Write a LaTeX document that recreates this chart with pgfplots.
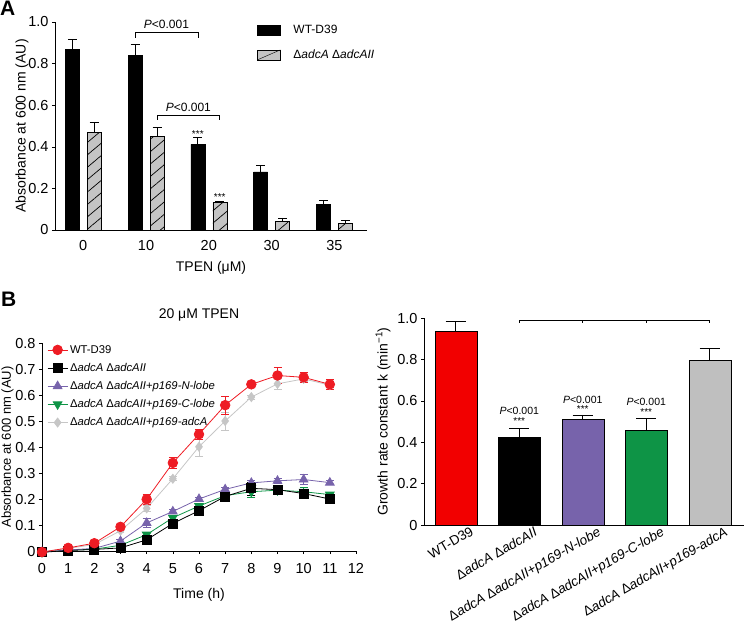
\documentclass[border=0pt]{standalone}
\usepackage{fontspec}
\setmainfont{Liberation Sans}
\usepackage{pgfplots}
\pgfplotsset{compat=1.18}
\usetikzlibrary{patterns.meta}
\definecolor{cred}{HTML}{EE1C24}
\definecolor{bred}{HTML}{F20000}
\definecolor{cpurple}{HTML}{7763AB}
\definecolor{cgreen}{HTML}{0E9446}
\definecolor{cgray}{HTML}{BFBFBF}
\definecolor{mgray}{HTML}{C6C6C6}
\definecolor{hgray}{HTML}{C4C4C4}
\newcommand{\dA}{Δ\textit{adcA}}
\newcommand{\dAII}{Δ\textit{adcAII}}
\newcommand{\fs}[1]{\fontsize{#1}{#1}\selectfont}
\begin{document}
\begin{tikzpicture}[font=\fs{14}]
\pgfplotsset{
  common/.style={
    scale only axis,
    axis x line*=bottom, axis y line*=left,
    tick align=outside,
    major tick length=3pt,
    tick style={black, line width=0.6pt},
    axis line style={line width=0.7pt, -},
    clip=false,
    ticklabel style={font=\fs{14.5}},
    label style={font=\fs{14}},
    /pgf/number format/assume math mode=true,
  }
}
% ---------------- Panel A ----------------
\begin{axis}[common,
  at={(55pt,-230pt)}, anchor=south west,
  width=312pt, height=208pt,
  xmin=-0.45, xmax=4.52, ymin=0, ymax=1,
  xtick={0,1,2,3,4}, xticklabels={0,10,20,30,35},
  xticklabel style={yshift=-4pt},
  x tick style={draw=none},
  ytick={0,0.2,0.4,0.6,0.8,1.0}, yticklabels={0,0.2,0.4,0.6,0.8,1.0},
  xlabel={TPEN (μM)}, ylabel={Absorbance at 600 nm (AU)},
  xlabel style={yshift=-4pt},
  ylabel shift=-7pt,
  error bars/y dir=plus, error bars/y explicit,
  error bars/error bar style={black, line width=0.7pt},
  error bars/error mark options={rotate=90, mark size=4.5pt, black, line width=0.7pt},
  legend style={at={(0.647,0.985)}, anchor=north west, draw=none, fill=none,
    font=\fs{12}, row sep=14pt, column sep=0pt, inner sep=0pt, nodes={inner sep=0pt}, cells={anchor=west}},
]
\addplot[ybar, bar width=14pt, bar shift=0pt, fill=black, draw=black, forget plot]
  coordinates {(-0.175,0.87) +- (0,0.048) (0.825,0.84) +- (0,0.053) (1.825,0.412) +- (0,0.035) (2.825,0.28) +- (0,0.03) (3.825,0.122) +- (0,0.02)};
\addplot[ybar, bar width=14pt, bar shift=0pt, fill=hgray, draw=black, forget plot,
  postaction={pattern={Lines[angle=40,distance=9.5pt,line width=0.7pt]}, pattern color=black}]
  coordinates {(0.175,0.47) +- (0,0.048) (1.175,0.45) +- (0,0.045) (2.175,0.133) +- (0,0.005) (3.175,0.04) +- (0,0.018) (4.175,0.033) +- (0,0.013)};
\addlegendimage{legend image code/.code={\draw[fill=black] (0pt,-5pt) rectangle (23pt,5pt); \path (36pt,0pt);}}
\addlegendentry{WT-D39}
\addlegendimage{legend image code/.code={\draw[fill=hgray] (0pt,-5pt) rectangle (23pt,5pt); \draw (0pt,-5pt) -- (23pt,5pt); \path (36pt,0pt);}}
\addlegendentry{\dA\ \dAII}
\draw[line width=0.6pt] (axis cs:0.825,0.925) -- (axis cs:0.825,0.95) -- (axis cs:1.825,0.95) -- (axis cs:1.825,0.925);
\node[font=\fs{12}] at (axis cs:1.325,0.99) {\textit{P}<0.001};
\draw[line width=0.6pt] (axis cs:1.175,0.53) -- (axis cs:1.175,0.552) -- (axis cs:2.175,0.552) -- (axis cs:2.175,0.53);
\node[font=\fs{12}] at (axis cs:1.675,0.592) {\textit{P}<0.001};
\node[font=\fs{10}] at (axis cs:1.825,0.46) {***};
\node[font=\fs{10}] at (axis cs:2.175,0.16) {***};
\end{axis}
% ---------------- Panel B left ----------------
\begin{axis}[common,
  at={(42pt,-551pt)}, anchor=south west,
  width=314pt, height=208pt,
  xmin=0, xmax=12, ymin=0, ymax=0.8,
  xtick={0,1,2,3,4,5,6,7,8,9,10,11,12},
  xticklabels={0,1,2,3,4,5,6,7,8,9,10,11,12},
  xticklabel style={yshift=-6pt},
  ytick={0,0.1,0.2,0.3,0.4,0.5,0.6,0.7,0.8},
  yticklabels={0,0.1,0.2,0.3,0.4,0.5,0.6,0.7,0.8},
  xlabel={Time (h)}, ylabel={Absorbance at 600 nm (AU)},
  xlabel style={yshift=-8pt},
  ylabel style={font=\fs{13}},
  ylabel shift=-5pt,
  error bars/y dir=both, error bars/y explicit,
  reverse legend,
  legend style={at={(0.016,1.0)}, anchor=north west, draw=none, fill=none,
    font=\fs{11.3}, row sep=4.5pt, inner sep=0pt, cells={anchor=west}},
  legend image code/.code={\draw[mark repeat=2,mark phase=2,#1] plot coordinates {(0pt,0pt) (10pt,0pt) (20pt,0pt)};},
]
\addplot[mgray, line width=0.8pt, mark=diamond*, mark size=4.5pt, mark options={fill=mgray, draw=mgray},
  error bars/error bar style={mgray, line width=0.7pt},
  error bars/error mark options={rotate=90, mark size=4pt, mgray, line width=0.7pt}]
  coordinates {(0,-0.004) +- (0,0.003) (1,0.01) +- (0,0.004) (2,0.025) +- (0,0.005) (3,0.078) +- (0,0.006)
   (4,0.164) +- (0,0.01) (5,0.278) +- (0,0.008) (6,0.401) +- (0,0.035) (7,0.5) +- (0,0.035)
   (8,0.592) +- (0,0.008) (9,0.643) +- (0,0.02) (10,0.662) +- (0,0.01) (11,0.638) +- (0,0.01)};
\addlegendentry{\dA\ \dAII+\textit{p169-adcA}}
\addplot[cgreen, line width=0.8pt, mark=triangle*, mark size=5pt, mark options={fill=cgreen, draw=cgreen, rotate=180},
  error bars/error bar style={cgreen, line width=0.7pt},
  error bars/error mark options={rotate=90, mark size=4pt, cgreen, line width=0.7pt}]
  coordinates {(0,-0.004) +- (0,0.003) (1,0.003) +- (0,0.003) (2,0.007) +- (0,0.003) (3,0.022) +- (0,0.005)
   (4,0.063) +- (0,0.008) (5,0.128) +- (0,0.008) (6,0.173) +- (0,0.008) (7,0.213) +- (0,0.01)
   (8,0.228) +- (0,0.02) (9,0.234) +- (0,0.01) (10,0.228) +- (0,0.015) (11,0.217) +- (0,0.008)};
\addlegendentry{\dA\ \dAII+\textit{p169-C-lobe}}
\addplot[cpurple, line width=0.8pt, mark=triangle*, mark size=5pt, mark options={fill=cpurple, draw=cpurple},
  error bars/error bar style={cpurple, line width=0.7pt},
  error bars/error mark options={rotate=90, mark size=4pt, cpurple, line width=0.7pt}]
  coordinates {(0,-0.004) +- (0,0.003) (1,0.004) +- (0,0.003) (2,0.01) +- (0,0.003) (3,0.038) +- (0,0.006)
   (4,0.108) +- (0,0.017) (5,0.152) +- (0,0.008) (6,0.2) +- (0,0.008) (7,0.237) +- (0,0.008)
   (8,0.262) +- (0,0.008) (9,0.27) +- (0,0.008) (10,0.275) +- (0,0.02) (11,0.263) +- (0,0.008)};
\addlegendentry{\dA\ \dAII+\textit{p169-N-lobe}}
\addplot[black, line width=0.8pt, mark=square*, mark size=4.5pt, mark options={fill=black, draw=black},
  error bars/error bar style={black, line width=0.7pt},
  error bars/error mark options={rotate=90, mark size=4pt, black, line width=0.7pt}]
  coordinates {(0,-0.005) +- (0,0.003) (1,0.002) +- (0,0.003) (2,0.006) +- (0,0.003) (3,0.012) +- (0,0.004)
   (4,0.043) +- (0,0.006) (5,0.106) +- (0,0.008) (6,0.155) +- (0,0.01) (7,0.21) +- (0,0.01)
   (8,0.241) +- (0,0.025) (9,0.236) +- (0,0.01) (10,0.221) +- (0,0.015) (11,0.2) +- (0,0.012)};
\addlegendentry{\dA\ \dAII}
\addplot[cred, line width=0.8pt, mark=*, mark size=4.8pt, mark options={fill=cred, draw=cred},
  error bars/error bar style={cred, line width=0.7pt},
  error bars/error mark options={rotate=90, mark size=4pt, cred, line width=0.7pt}]
  coordinates {(0,-0.004) +- (0,0.004) (1,0.012) +- (0,0.005) (2,0.03) +- (0,0.006) (3,0.093) +- (0,0.008)
   (4,0.199) +- (0,0.02) (5,0.339) +- (0,0.02) (6,0.449) +- (0,0.02) (7,0.561) +- (0,0.034)
   (8,0.641) +- (0,0.008) (9,0.675) +- (0,0.03) (10,0.668) +- (0,0.02) (11,0.641) +- (0,0.02)};
\addlegendentry{WT-D39}
\node[font=\fs{14}] at (rel axis cs:0.5,1.135) {20 μM TPEN};
\end{axis}
% ---------------- Panel B right ----------------
\begin{axis}[common,
  at={(424pt,-525pt)}, anchor=south west,
  width=320pt, height=207pt,
  xmin=-0.5, xmax=4.54, ymin=0, ymax=1,
  xtick={0,1,2,3,4},
  xticklabels={WT-D39, \dA\ \dAII, \dA\ \dAII+\textit{p169-N-lobe}, \dA\ \dAII+\textit{p169-C-lobe}, \dA\ \dAII+\textit{p169-adcA}},
  xticklabel style={font=\fs{13.5}, xshift=14pt, yshift=2pt, rotate=30, anchor=north east, inner sep=0pt},
  x tick style={draw=none},
  ytick={0,0.2,0.4,0.6,0.8,1.0}, yticklabels={0,0.2,0.4,0.6,0.8,1.0},
  ylabel={Growth rate constant k (min\textsuperscript{−1})},
  error bars/y dir=plus, error bars/y explicit,
  error bars/error bar style={black, line width=0.7pt},
  error bars/error mark options={rotate=90, mark size=10pt, black, line width=0.7pt},
]
\addplot[ybar, bar width=42pt, bar shift=0pt, fill=bred, draw=black] coordinates {(0,0.935) +- (0,0.05)};
\addplot[ybar, bar width=42pt, bar shift=0pt, fill=black, draw=black] coordinates {(1,0.424) +- (0,0.043)};
\addplot[ybar, bar width=42pt, bar shift=0pt, fill=cpurple, draw=black] coordinates {(2,0.511) +- (0,0.021)};
\addplot[ybar, bar width=42pt, bar shift=0pt, fill=cgreen, draw=black] coordinates {(3,0.458) +- (0,0.056)};
\addplot[ybar, bar width=42pt, bar shift=0pt, fill=cgray, draw=black] coordinates {(4,0.795) +- (0,0.06)};
\draw[line width=0.6pt] (axis cs:1,0.975) -- (axis cs:1,0.99) -- (axis cs:4,0.99) -- (axis cs:4,0.975);
\draw[line width=0.6pt] (axis cs:2,0.99) -- (axis cs:2,0.975);
\draw[line width=0.6pt] (axis cs:3,0.99) -- (axis cs:3,0.975);
\node[font=\fs{10.5}] at (axis cs:1,0.55) {\textit{P}<0.001};
\node[font=\fs{10}] at (axis cs:1,0.50) {***};
\node[font=\fs{10.5}] at (axis cs:2,0.605) {\textit{P}<0.001};
\node[font=\fs{10}] at (axis cs:2,0.558) {***};
\node[font=\fs{10.5}] at (axis cs:3,0.594) {\textit{P}<0.001};
\node[font=\fs{10}] at (axis cs:3,0.547) {***};
\end{axis}
\node[anchor=north west, inner sep=0pt, font=\bfseries\fs{21}] at (0pt,-1pt) {A};
\node[anchor=north west, inner sep=0pt, font=\bfseries\fs{21}] at (1pt,-292pt) {B};
\pgfresetboundingbox
\path (0pt,0pt) rectangle (745pt,-625pt);
\end{tikzpicture}
\end{document}
